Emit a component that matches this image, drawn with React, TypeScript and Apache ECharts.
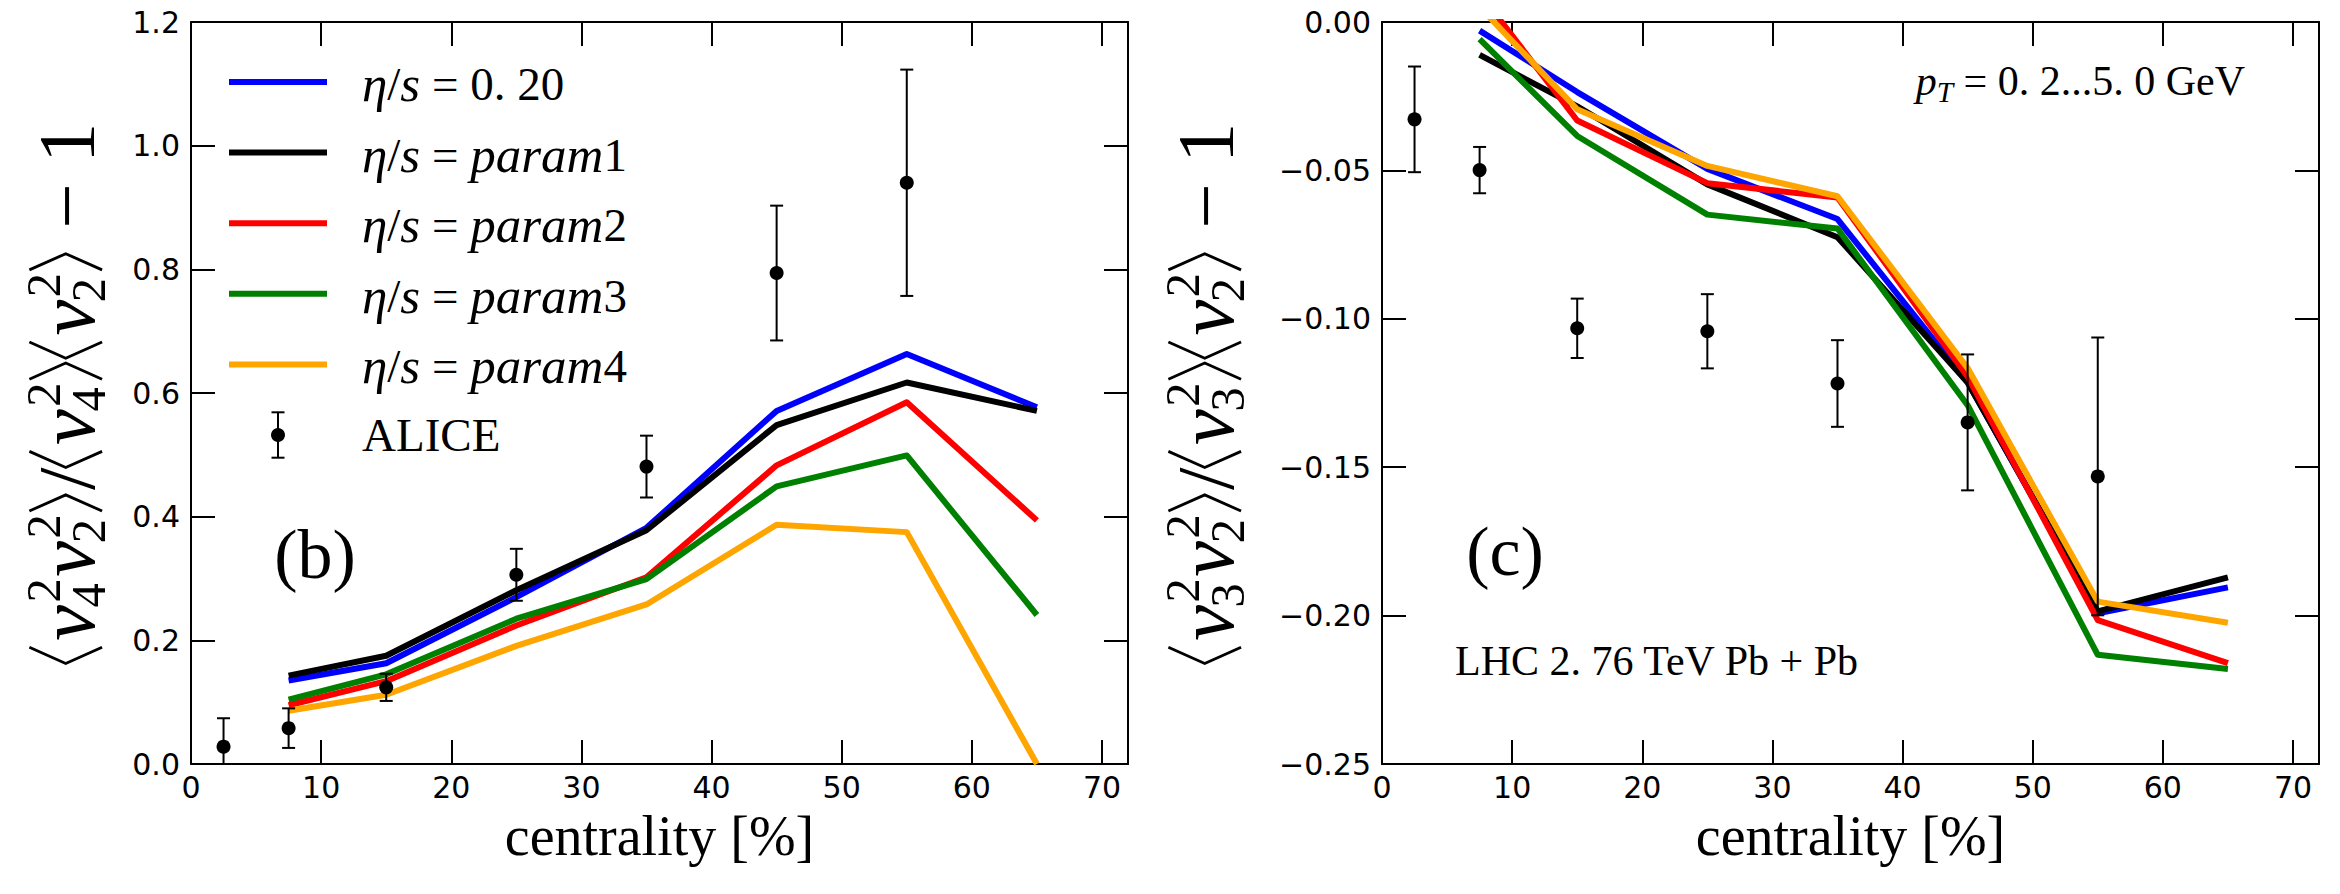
import React, { useEffect, useRef } from 'react';
import * as echarts from 'echarts';

// Centrality bin centres (%) of the hydrodynamic curves
const centrality = [7.5, 15, 25, 35, 45, 55, 65];

const modelLabels = ['0. 20', 'param1', 'param2', 'param3', 'param4'];
const modelColors = ['#0000ff', '#000000', '#ff0000', '#008000', '#ffa500'];

// Panel (b): <v4^2 v2^2>/<v4^2><v2^2> - 1
const v4Eta020 = [0.135, 0.163, 0.27, 0.382, 0.571, 0.663, 0.577];
const v4Param1 = [0.143, 0.175, 0.281, 0.378, 0.548, 0.617, 0.571];
const v4Param2 = [0.095, 0.134, 0.224, 0.302, 0.483, 0.585, 0.394];
const v4Param3 = [0.104, 0.145, 0.235, 0.299, 0.449, 0.499, 0.241];
const v4Param4 = [0.086, 0.112, 0.191, 0.258, 0.387, 0.375, 0.0];

// Panel (c): <v3^2 v2^2>/<v3^2><v2^2> - 1
const v3Eta020 = [-0.0029, -0.0236, -0.0495, -0.0664, -0.1214, -0.1992, -0.1905];
const v3Param1 = [-0.0111, -0.0284, -0.0547, -0.0725, -0.1215, -0.1986, -0.1871];
const v3Param2 = [0.0097, -0.0332, -0.0543, -0.0591, -0.1195, -0.2015, -0.216];
const v3Param3 = [-0.0058, -0.0384, -0.0649, -0.0696, -0.1291, -0.2132, -0.218];
const v3Param4 = [0.0051, -0.0294, -0.0485, -0.0587, -0.1166, -0.1953, -0.2024];

// ALICE measurements
const aliceCentrality = [2.5, 7.5, 15, 25, 35, 45, 55];
const aliceV4 = [0.028, 0.058, 0.124, 0.306, 0.481, 0.794, 0.94];
const aliceV4Err = [0.046, 0.032, 0.022, 0.042, 0.05, 0.109, 0.183];
const aliceV3 = [-0.0328, -0.0499, -0.1032, -0.1042, -0.1218, -0.1349, -0.1531];
const aliceV3Err = [0.0178, 0.0078, 0.01, 0.0125, 0.0146, 0.0229, 0.0468];

const v4Curves = [v4Eta020, v4Param1, v4Param2, v4Param3, v4Param4];
const v3Curves = [v3Eta020, v3Param1, v3Param2, v3Param3, v3Param4];

const SERIF = 'Liberation Serif, DejaVu Serif, serif';
const SANS = 'DejaVu Sans, sans-serif';
// distance of the SVG "central" baseline above the alphabetic one, in em
const CENTRAL = 0.3375;

const W = 2340;
const H = 894;
const GRID_TOP = 22;
const GRID_H = 742;
const GRID_W = 937;
const LEFT_B = 191;
const LEFT_C = 1382;

let measureCtx: CanvasRenderingContext2D | null = null;
function textWidth(s: string, size: number, italic = false): number {
  if (!measureCtx) measureCtx = document.createElement('canvas').getContext('2d');
  measureCtx!.font = `${italic ? 'italic ' : ''}${size}px ${SERIF}`;
  return measureCtx!.measureText(s).width;
}

// a serif glyph run whose alphabetic baseline sits at `baseline`
function glyph(s: string, x: number, baseline: number, size: number, italic = false) {
  return {
    type: 'text',
    x,
    y: baseline - CENTRAL * size,
    silent: true,
    style: {
      text: s,
      fontSize: size,
      fontFamily: SERIF,
      fontStyle: italic ? 'italic' : 'normal',
      fill: '#000',
      textAlign: 'left',
      textVerticalAlign: 'middle',
    },
  };
}

// rotated axis title  <v_n^2 v_2^2> / <v_n^2><v_2^2> - 1
function ratioTitleParts(n: string, F: number) {
  const S = 0.6 * F;
  const bw = 0.2 * F;
  const top = -0.8 * F;
  const bot = 0.1 * F;
  const mid = (top + bot) / 2;
  const lw = Math.max(2, 0.035 * F);
  const els: any[] = [];
  let x = 0;
  const bracket = (pts: number[][]) => ({
    type: 'polyline',
    silent: true,
    shape: { points: pts },
    style: { stroke: '#000', lineWidth: lw, fill: null },
  });
  const open = () => {
    els.push(bracket([[x + bw, top], [x, mid], [x + bw, bot]]));
    x += bw + 0.08 * F;
  };
  const close = () => {
    x += 0.02 * F;
    els.push(bracket([[x, top], [x + bw, mid], [x, bot]]));
    x += bw + 0.06 * F;
  };
  const vv = (sub: string) => {
    els.push(glyph('v', x, 0, F, true));
    const w = textWidth('v', F, true);
    const supX = x + w + 0.03 * F;
    const subX = x + w - 0.03 * F;
    els.push(glyph('2', supX, -0.42 * F, S));
    els.push(glyph(sub, subX, 0.14 * F, S));
    x = Math.max(supX + textWidth('2', S), subX + textWidth(sub, S)) + 0.02 * F;
  };
  const txt = (s: string, italic = false) => {
    els.push(glyph(s, x, 0, F, italic));
    x += textWidth(s, F, italic);
  };
  open(); vv(n); vv('2'); close();
  txt('/');
  open(); vv(n); close();
  open(); vv('2'); close();
  x += 0.25 * F; txt('\u2212'); x += 0.25 * F; txt('1');
  return { els, width: x };
}

function ratioTitle(n: string, baselineX: number, length: number) {
  const probe = ratioTitleParts(n, 100);
  const F = (100 * length) / probe.width;
  const t = ratioTitleParts(n, F);
  return {
    type: 'group',
    x: baselineX,
    y: GRID_TOP + GRID_H / 2 + t.width / 2,
    rotation: Math.PI / 2,
    children: t.els,
  };
}

function legendText(label: string) {
  const value = label.startsWith('param') ? `{i|param}${label.slice(5)}` : label;
  return `{i|η}/{i|s} = ${value}`;
}

function buildOption() {
  const LEG_SIZE = 47;
  const LEG_ITALIC = 51;
  const axisLine = { show: true, onZero: false, lineStyle: { color: '#000', width: 2 } };
  const axisTick = { show: true, inside: true, length: 24, lineStyle: { color: '#000', width: 2 } };

  const xAxis = (gridIndex: number, position: string) => ({
    type: 'value',
    gridIndex,
    position,
    min: 0,
    max: 72,
    interval: 10,
    axisLine,
    axisTick,
    splitLine: { show: false },
    axisLabel:
      position === 'bottom'
        ? {
            show: true,
            margin: 8,
            fontFamily: SANS,
            fontSize: 30,
            color: '#000',
            showMaxLabel: false,
            formatter: (v: number) => (v % 10 === 0 ? String(v) : ''),
          }
        : { show: false },
  });

  const yAxis = (
    gridIndex: number,
    position: string,
    min: number,
    max: number,
    interval: number,
    digits: number
  ) => ({
    type: 'value',
    gridIndex,
    position,
    min,
    max,
    interval,
    axisLine,
    axisTick,
    splitLine: { show: false },
    axisLabel:
      position === 'left'
        ? {
            show: true,
            margin: 11,
            fontFamily: SANS,
            fontSize: 30,
            color: '#000',
            formatter: (v: number) =>
              (v < -1e-9 ? '\u2212' : '') + Math.abs(v).toFixed(digits),
          }
        : { show: false },
  });

  const lineSeries = (axis: number, curves: number[][]) =>
    curves.map((vals, k) => ({
      type: 'line',
      name: modelLabels[k],
      xAxisIndex: axis,
      yAxisIndex: axis,
      data: centrality.map((c, i) => [c, vals[i]]),
      symbol: 'none',
      clip: true,
      silent: true,
      z: 3,
      lineStyle: { color: modelColors[k], width: 6, join: 'round', cap: 'butt' },
      itemStyle: { color: modelColors[k] },
    }));

  const errorSeries = (axis: number, ys: number[], es: number[]) => ({
    type: 'custom',
    name: 'ALICE',
    xAxisIndex: axis,
    yAxisIndex: axis,
    clip: true,
    silent: true,
    z: 5,
    data: aliceCentrality.map((c, i) => [c, ys[i], es[i]]),
    renderItem: (_p: any, api: any) => {
      const x = api.value(0);
      const y = api.value(1);
      const e = api.value(2);
      const p = api.coord([x, y]);
      const hi = api.coord([x, y + e]);
      const lo = api.coord([x, y - e]);
      const st = { stroke: '#000', lineWidth: 2 };
      return {
        type: 'group',
        children: [
          { type: 'line', shape: { x1: p[0], y1: hi[1], x2: p[0], y2: lo[1] }, style: st },
          { type: 'line', shape: { x1: p[0] - 6.5, y1: hi[1], x2: p[0] + 6.5, y2: hi[1] }, style: st },
          { type: 'line', shape: { x1: p[0] - 6.5, y1: lo[1], x2: p[0] + 6.5, y2: lo[1] }, style: st },
          { type: 'circle', shape: { cx: p[0], cy: p[1], r: 7 }, style: { fill: '#000' } },
        ],
      };
    },
  });

  // legend of panel (b)
  const legend: any[] = [];
  const rowY = (i: number) => 82 + i * 70.6;
  modelLabels.forEach((label, i) => {
    legend.push({
      type: 'line',
      silent: true,
      shape: { x1: 229, y1: rowY(i), x2: 327, y2: rowY(i) },
      style: { stroke: modelColors[i], lineWidth: 6 },
    });
    legend.push({
      type: 'text',
      x: 362,
      y: rowY(i) + 2,
      silent: true,
      style: {
        text: legendText(label),
        fontSize: LEG_SIZE,
        fontFamily: SERIF,
        fill: '#000',
        textAlign: 'left',
        textVerticalAlign: 'middle',
        rich: {
          i: { fontSize: LEG_ITALIC, fontFamily: SERIF, fontStyle: 'italic', fill: '#000' },
        },
      },
    });
  });
  const ay = rowY(5);
  const est = { stroke: '#000', lineWidth: 2 };
  legend.push(
    { type: 'line', silent: true, shape: { x1: 278, y1: ay - 22.7, x2: 278, y2: ay + 22.7 }, style: est },
    { type: 'line', silent: true, shape: { x1: 271.5, y1: ay - 22.7, x2: 284.5, y2: ay - 22.7 }, style: est },
    { type: 'line', silent: true, shape: { x1: 271.5, y1: ay + 22.7, x2: 284.5, y2: ay + 22.7 }, style: est },
    { type: 'circle', silent: true, shape: { cx: 278, cy: ay, r: 7 }, style: { fill: '#000' } },
    glyph('ALICE', 362, ay + CENTRAL * LEG_SIZE, LEG_SIZE)
  );

  // p_T range label, right-aligned
  const PT = 42;
  const ptRest = ' = 0. 2...5. 0 GeV';
  const pW = textWidth('p', PT, true);
  const tW = textWidth('T', 0.7 * PT, true);
  const rW = textWidth(ptRest, PT);
  const ptX = 2245 - (pW + tW + rW);
  const ptBase = 95;

  const centre = (text: string, cx: number, cy: number, size: number) => ({
    type: 'text',
    x: cx,
    y: cy,
    silent: true,
    style: {
      text,
      fontSize: size,
      fontFamily: SERIF,
      fill: '#000',
      textAlign: 'center',
      textVerticalAlign: 'middle',
    },
  });

  const graphic: any[] = [
    ...legend,
    centre('(b)', 315, 554, 70),
    centre('(c)', 1505, 551, 70),
    glyph('p', ptX, ptBase, PT, true),
    glyph('T', ptX + pW, ptBase + 0.16 * PT, 0.7 * PT, true),
    glyph(ptRest, ptX + pW + tW, ptBase, PT),
    glyph('LHC 2. 76 TeV Pb + Pb', 1455, 675, 42),
    centre('centrality [%]', LEFT_B + GRID_W / 2, 855 - CENTRAL * 56, 56),
    centre('centrality [%]', LEFT_C + GRID_W / 2, 855 - CENTRAL * 56, 56),
    ratioTitle('4', 94, 541),
    ratioTitle('3', 1233, 541),
  ];

  return {
    animation: false,
    backgroundColor: '#ffffff',
    grid: [
      { left: LEFT_B, top: GRID_TOP, width: GRID_W, height: GRID_H, containLabel: false },
      { left: LEFT_C, top: GRID_TOP, width: GRID_W, height: GRID_H, containLabel: false },
    ],
    xAxis: [xAxis(0, 'bottom'), xAxis(0, 'top'), xAxis(1, 'bottom'), xAxis(1, 'top')],
    yAxis: [
      yAxis(0, 'left', 0, 1.2, 0.2, 1),
      yAxis(0, 'right', 0, 1.2, 0.2, 1),
      yAxis(1, 'left', -0.25, 0, 0.05, 2),
      yAxis(1, 'right', -0.25, 0, 0.05, 2),
    ],
    series: [
      ...lineSeries(0, v4Curves),
      errorSeries(0, aliceV4, aliceV4Err),
      ...lineSeries(2, v3Curves),
      errorSeries(2, aliceV3, aliceV3Err),
    ],
    graphic,
  };
}

export default function App() {
  const ref = useRef<HTMLDivElement>(null);
  useEffect(() => {
    if (!ref.current) return;
    const chart = echarts.init(ref.current, null, { renderer: 'svg' });
    chart.setOption(buildOption() as any);
    return () => chart.dispose();
  }, []);
  return (
    <div
      ref={ref}
      style={{ position: 'absolute', left: 0, top: 0, width: W, height: H, background: '#fff' }}
    />
  );
}
